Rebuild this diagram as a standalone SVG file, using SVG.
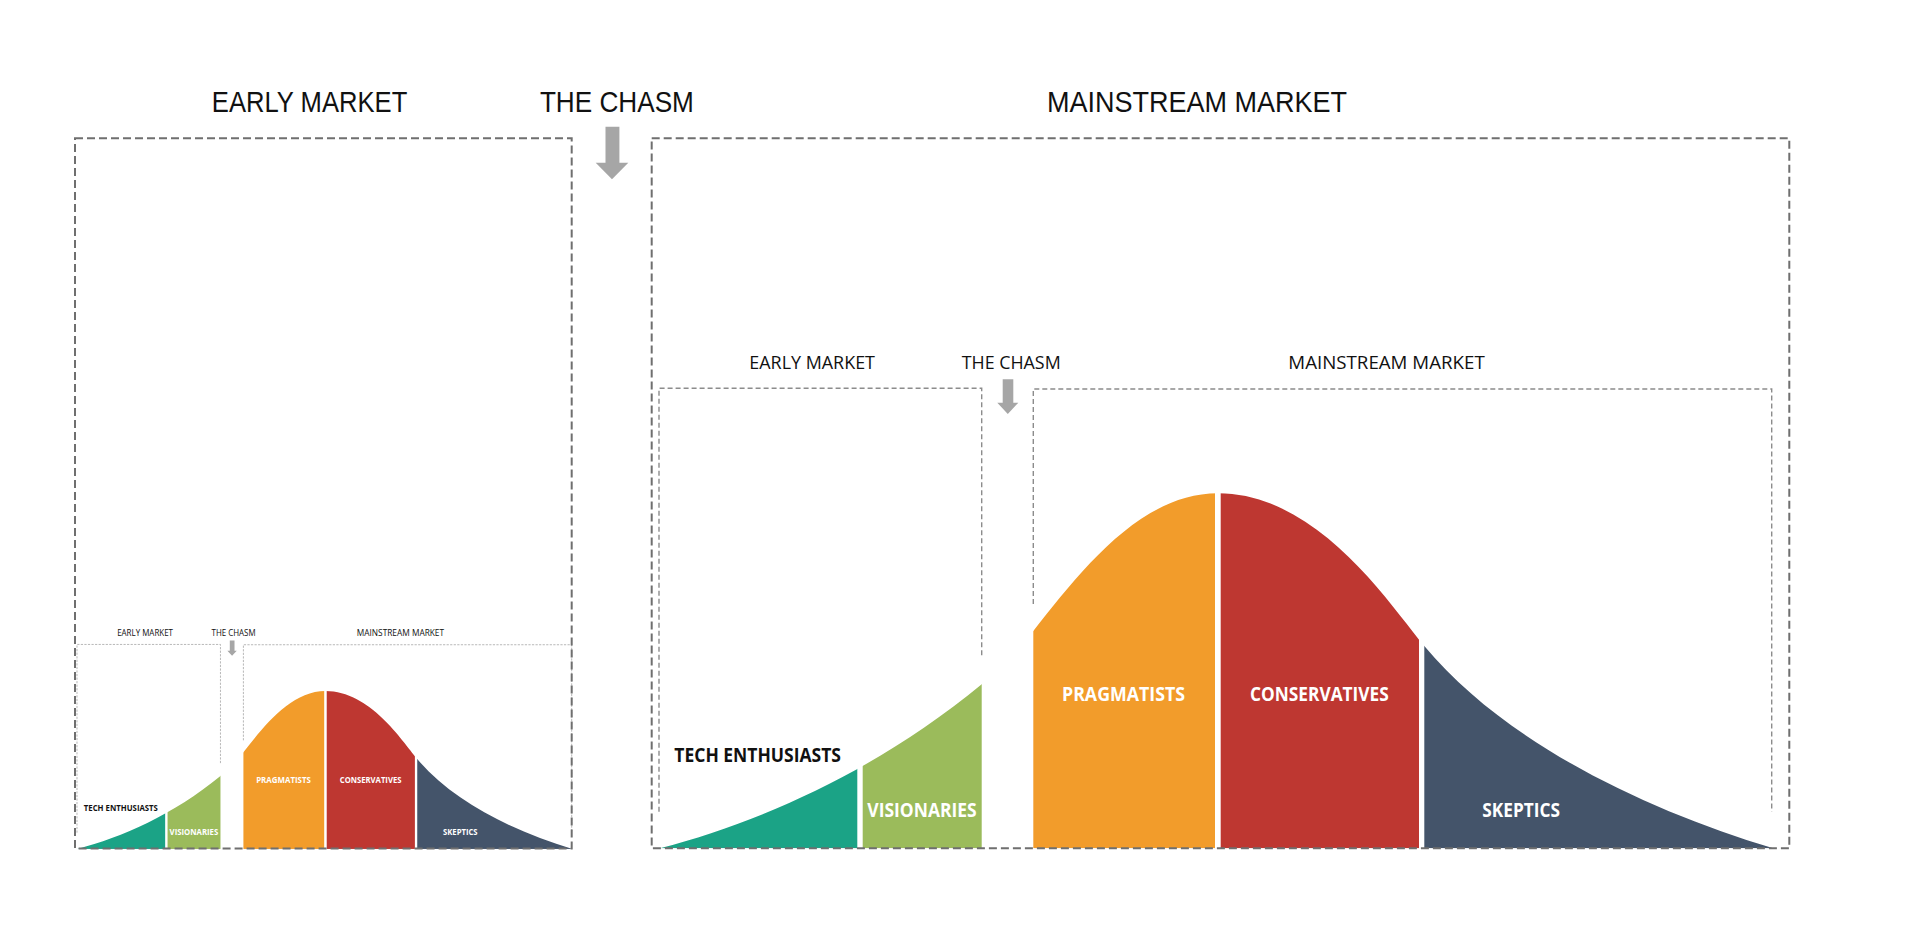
<svg xmlns="http://www.w3.org/2000/svg" xmlns:xlink="http://www.w3.org/1999/xlink" width="1915" height="943" viewBox="0 0 1915 943">
<style>
.title{font-family:"Liberation Sans","Open Sans",sans-serif;font-size:30px;fill:#111;}
.sub{font-family:"Open Sans","Liberation Sans",sans-serif;font-size:18.5px;fill:#111;}
.seg{font-family:"Open Sans","Liberation Sans",sans-serif;font-weight:700;font-size:19.5px;fill:#fff;}
.segdark{font-family:"Open Sans","Liberation Sans",sans-serif;font-weight:700;font-size:19.5px;fill:#111;}
.outer{fill:none;stroke:#6f6f6f;stroke-width:2;stroke-dasharray:8 4;}
.inner{fill:none;stroke:#8c8c8c;stroke-width:1.4;stroke-dasharray:5 3;}
.arrow{fill:#a6a6a6;}
</style>
<defs>
<clipPath id="bell" clipPathUnits="userSpaceOnUse">
<path d="M660,848.3 C760,822 875,772 981.7,684.3 L1033.3,631 C1080,572 1140,493.3 1218,493.3 C1318,493.3 1389.3,604 1424.3,646 C1504.3,742 1643.3,809.3 1773.3,848.3 Z"/>
</clipPath>
</defs>
<rect x="0" y="0" width="1915" height="943" fill="#fff"/>

<g id="titles">
<text class="title" x="211.8" y="112" textLength="195.5" lengthAdjust="spacingAndGlyphs">EARLY MARKET</text>
<text class="title" x="539.9" y="112" textLength="154" lengthAdjust="spacingAndGlyphs">THE CHASM</text>
<text class="title" x="1047" y="112" textLength="300" lengthAdjust="spacingAndGlyphs">MAINSTREAM MARKET</text>
</g>

<g id="market-chart">
<g id="chart-titles">
<text class="sub" x="749.3" y="369.3" textLength="125.7" lengthAdjust="spacingAndGlyphs">EARLY MARKET</text>
<text class="sub" x="961.7" y="369.3" textLength="99" lengthAdjust="spacingAndGlyphs">THE CHASM</text>
<text class="sub" x="1288.3" y="369.3" textLength="196.4" lengthAdjust="spacingAndGlyphs">MAINSTREAM MARKET</text>
</g>
<g id="early-box"><path class="inner" d="M659,811.7 V388.3 H981.7 V657.3"/></g>
<g id="mainstream-box"><path class="inner" d="M1033.3,604 V389 H1771.7 V811.7"/></g>
<g id="chart-arrow"><path class="arrow" d="M1002.7,379.3 H1013.3 V402.7 H1018.3 L1007.8,414 L997.3,402.7 H1002.7 Z"/></g>
<g id="tech-enthusiasts">
<rect x="655" y="480" width="202.3" height="368.3" fill="#1ba386" clip-path="url(#bell)"/>
<text class="segdark" x="674.3" y="762" textLength="166.7" lengthAdjust="spacingAndGlyphs">TECH ENTHUSIASTS</text>
</g>
<g id="visionaries">
<rect x="862.7" y="480" width="119" height="368.3" fill="#9bbb5b" clip-path="url(#bell)"/>
<text class="seg" x="867.3" y="817.3" textLength="109.4" lengthAdjust="spacingAndGlyphs">VISIONARIES</text>
</g>
<g id="pragmatists">
<rect x="1033.3" y="480" width="181.7" height="368.3" fill="#f29c2b" clip-path="url(#bell)"/>
<text class="seg" x="1062" y="700.7" textLength="123" lengthAdjust="spacingAndGlyphs">PRAGMATISTS</text>
</g>
<g id="conservatives">
<rect x="1220.7" y="480" width="198.3" height="368.3" fill="#be3731" clip-path="url(#bell)"/>
<text class="seg" x="1250" y="700.7" textLength="138.7" lengthAdjust="spacingAndGlyphs">CONSERVATIVES</text>
</g>
<g id="skeptics">
<rect x="1424.3" y="480" width="355" height="368.3" fill="#44546a" clip-path="url(#bell)"/>
<text class="seg" x="1482.3" y="817.3" textLength="77.7" lengthAdjust="spacingAndGlyphs">SKEPTICS</text>
</g>
</g>

<g id="small-chart">
<use xlink:href="#market-chart" href="#market-chart" transform="matrix(0.4446 0 0 0.4446 -216 471.8)"/>
</g>

<g id="early-market-frame"><rect class="outer" x="75" y="138.3" width="496.7" height="710.2"/></g>
<g id="mainstream-market-frame"><rect class="outer" x="651.7" y="138.3" width="1137.6" height="710"/></g>

<g id="connectors">
<path class="arrow" d="M605.5,126.7 H619.4 V162.7 H628.3 L612,179.3 L595.7,162.7 H605.5 Z"/>
</g>
</svg>
